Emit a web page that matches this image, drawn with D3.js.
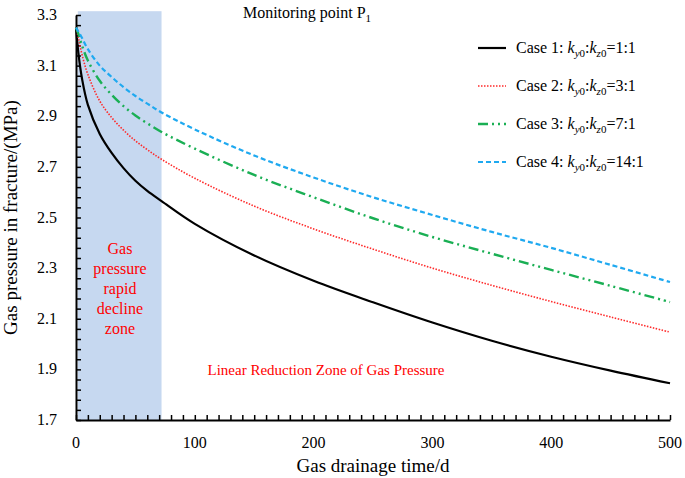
<!DOCTYPE html>
<html>
<head>
<meta charset="utf-8">
<script src="https://cdn.jsdelivr.net/npm/d3@7"></script>
<style>
  body { margin: 0; background: #fff; }
  text { font-family: "Liberation Serif", "Times New Roman", serif; }
</style>
</head>
<body>
<svg id="chart" width="685" height="478"></svg>
<script>
// data
var days = [0, 2, 5, 10, 20, 30, 40, 50, 60, 72, 100, 150, 200, 250, 300, 350, 400, 450, 500];
var case1 = [3.25, 3.15, 3.05, 2.945, 2.83, 2.755, 2.695, 2.645, 2.605, 2.565, 2.475, 2.35, 2.25, 2.165, 2.085, 2.013, 1.95, 1.895, 1.845];
var case2 = [3.25, 3.21, 3.145, 3.065, 2.96, 2.895, 2.845, 2.803, 2.768, 2.73, 2.655, 2.545, 2.455, 2.375, 2.3, 2.232, 2.168, 2.107, 2.047];
var case3 = [3.25, 3.225, 3.18, 3.12, 3.04, 2.985, 2.94, 2.903, 2.872, 2.838, 2.772, 2.668, 2.58, 2.497, 2.423, 2.357, 2.293, 2.23, 2.166];
var case4 = [3.25, 3.235, 3.21, 3.165, 3.10, 3.055, 3.015, 2.98, 2.95, 2.915, 2.848, 2.745, 2.658, 2.58, 2.51, 2.443, 2.38, 2.313, 2.245];
var caseNames = ["Case 1", "Case 2", "Case 3", "Case 4"];
var ratios = ["1:1", "3:1", "7:1", "14:1"];
var yTicks = [1.7, 1.9, 2.1, 2.3, 2.5, 2.7, 2.9, 3.1, 3.3];
var xTicks = [0, 100, 200, 300, 400, 500];
var rapidZoneEnd = 72;

var svg = d3.select("#chart");
var mLeft = 76, mRight = 670, mTop = 15, mBottom = 420;

var x = d3.scaleLinear().domain([0, 500]).range([mLeft, mRight]);
var y = d3.scaleLinear().domain([1.7, 3.3]).range([mBottom, mTop]);

// shaded rapid decline zone
svg.append("rect")
    .attr("x", x(1.5)).attr("y", y(3.315))
    .attr("width", x(rapidZoneEnd) - x(1.5))
    .attr("height", y(1.7) - y(3.315))
    .attr("fill", "#c6d8f0");

// axes
var xAxis = svg.append("g").attr("transform", "translate(0," + mBottom + ")")
    .call(d3.axisBottom(x).tickValues(d3.range(0, 501, 10)).tickSizeInner(-5).tickSizeOuter(0).tickFormat(""));
var yAxis = svg.append("g").attr("transform", "translate(" + mLeft + ",0)")
    .call(d3.axisLeft(y).tickValues(d3.range(0, 41).map(function(i) { return 1.7 + i * 0.04; })).tickSizeInner(-5).tickSizeOuter(0).tickFormat(""));
[xAxis, yAxis].forEach(function(a) {
    a.select(".domain").attr("stroke", "#000").attr("stroke-width", 2);
    a.selectAll(".tick line").attr("stroke", "#000").attr("stroke-width", 1.5);
});

svg.selectAll(".xlab").data(xTicks).enter().append("text")
    .attr("x", function(d) { return x(d); }).attr("y", mBottom + 28)
    .attr("text-anchor", "middle").attr("font-size", 16).text(function(d) { return d; });
svg.selectAll(".ylab").data(yTicks).enter().append("text")
    .attr("x", mLeft - 19).attr("y", function(d) { return y(d) + 5; })
    .attr("text-anchor", "end").attr("font-size", 16).text(function(d) { return d.toFixed(1); });

svg.append("text").attr("x", 373).attr("y", 472).attr("text-anchor", "middle")
    .attr("font-size", 19).text("Gas drainage time/d");
svg.append("text").attr("transform", "translate(17," + ((mTop + mBottom) / 2) + ") rotate(-90)")
    .attr("text-anchor", "middle").attr("font-size", 19).text("Gas pressure in fracture/(MPa)");

// title
var title = svg.append("text").attr("x", 307).attr("y", 18).attr("text-anchor", "middle").attr("font-size", 16);
title.append("tspan").text("Monitoring point P");
title.append("tspan").attr("font-size", 11).attr("dy", 4).text("1");

// zone labels
var zoneLines = ["Gas", "pressure", "rapid", "decline", "zone"];
svg.selectAll(".zone").data(zoneLines).enter().append("text")
    .attr("x", x(rapidZoneEnd / 2 + 1)).attr("y", function(d, i) { return 254 + i * 20; })
    .attr("text-anchor", "middle").attr("font-size", 16).attr("fill", "#ff0000").text(function(d) { return d; });
svg.append("text").attr("x", 326).attr("y", 375).attr("text-anchor", "middle")
    .attr("font-size", 15).attr("fill", "#ff0000").text("Linear Reduction Zone of Gas Pressure");

// curves
var series = [
    { vals: case1, color: "#000000", width: 2.2, dash: null },
    { vals: case2, color: "#ff2a2a", width: 1.6, dash: "1.5,1.5" },
    { vals: case3, color: "#1aaf54", width: 2.4, dash: "10,4,2,4,2,4" },
    { vals: case4, color: "#1fa9f0", width: 2.2, dash: "5,3" }
];
var line = d3.line().curve(d3.curveCatmullRom.alpha(0.5))
    .x(function(d) { return x(d[0]); }).y(function(d) { return y(d[1]); });

series.forEach(function(s) {
    svg.append("path")
        .attr("d", line(days.map(function(t, i) { return [t, s.vals[i]]; })))
        .attr("fill", "none").attr("stroke", s.color).attr("stroke-width", s.width)
        .attr("stroke-dasharray", s.dash);
});

// legend
var legendY = [48, 86, 124, 162];
series.forEach(function(s, i) {
    svg.append("line").attr("x1", 478).attr("x2", 506).attr("y1", legendY[i]).attr("y2", legendY[i])
        .attr("stroke", s.color).attr("stroke-width", s.width).attr("stroke-dasharray", s.dash);
    var t = svg.append("text").attr("x", 516).attr("y", legendY[i] + 5).attr("font-size", 16);
    t.append("tspan").text(caseNames[i] + ": ");
    t.append("tspan").attr("font-style", "italic").text("k");
    t.append("tspan").attr("font-size", 11).attr("dy", 4).attr("font-style", "italic").text("y");
    t.append("tspan").attr("font-size", 11).text("0");
    t.append("tspan").attr("dy", -4).text(":");
    t.append("tspan").attr("font-style", "italic").text("k");
    t.append("tspan").attr("font-size", 11).attr("dy", 4).attr("font-style", "italic").text("z");
    t.append("tspan").attr("font-size", 11).text("0");
    t.append("tspan").attr("dy", -4).text("=" + ratios[i]);
});
</script>
</body>
</html>
